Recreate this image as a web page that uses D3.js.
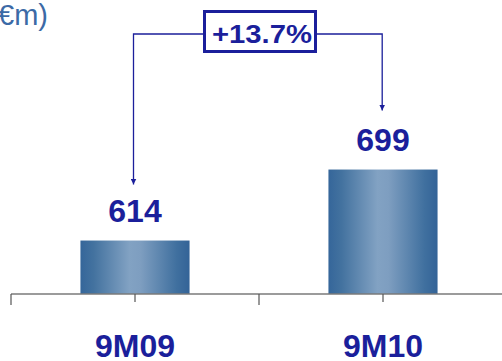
<!DOCTYPE html>
<html>
<head>
<meta charset="utf-8">
<script src="https://cdn.jsdelivr.net/npm/d3@7/dist/d3.min.js"></script>
<style>
  html, body { margin: 0; padding: 0; background: #fff; }
  svg { display: block; font-family: "Liberation Sans", Arial, sans-serif; }
</style>
</head>
<body>
<svg id="chart" width="502" height="361"></svg>
<script>
// Nine-month figures (€m)
const categories = ["9M09", "9M10"];
const values = [614, 699];
const growthLabel = "+13.7%";
const unitLabel = "(€m)";

const W = 502, H = 361;
const svg = d3.select("#chart");

const navy = "#1b1f9b";
const steel = "#3c6aa6";

// Horizontal scale: one band per period
const x = d3.scaleBand().domain(categories).range([11, 507]).padding(0);
const barW = x.bandwidth() * 0.44;
const cx = c => x(c) + x.bandwidth() / 2;

// Vertical scale with a truncated baseline
const baseY = 294;
const y = d3.scaleLinear().domain([550, 700]).range([baseY, baseY - 125.3]);

// Bar fill: light band down the middle, darker edges
const defs = svg.append("defs");
const grad = defs.append("linearGradient").attr("id", "barGrad")
  .attr("x1", "0%").attr("x2", "100%").attr("y1", "0%").attr("y2", "0%");
[["0%", "#35669a"], ["12%", "#43729f"], ["45%", "#82a2c3"], ["55%", "#7e9ec0"], ["88%", "#40709f"], ["100%", "#336397"]]
  .forEach(([o, c]) => grad.append("stop").attr("offset", o).attr("stop-color", c));

defs.append("marker").attr("id", "arrowHead")
  .attr("viewBox", "0 0 10 10").attr("refX", 10).attr("refY", 5)
  .attr("markerWidth", 6).attr("markerHeight", 6).attr("markerUnits", "userSpaceOnUse")
  .attr("orient", "auto")
  .append("path").attr("d", "M0,0 L10,5 L0,10 Z").attr("fill", navy);

// Unit label, partly off the left edge
svg.append("text").attr("x", 48).attr("y", 25)
  .attr("text-anchor", "end").attr("font-size", 29).attr("fill", steel)
  .text(unitLabel);

// Bars
svg.selectAll("rect.bar").data(values).join("rect")
  .attr("class", "bar")
  .attr("x", (d, i) => cx(categories[i]) - barW / 2)
  .attr("width", barW)
  .attr("y", d => y(d))
  .attr("height", d => baseY - y(d))
  .attr("fill", "url(#barGrad)");

// Axis with short ticks at the bar centres
const axis = d3.axisBottom(x).tickSize(8).tickSizeOuter(0).tickFormat("");
const gAxis = svg.append("g").attr("transform", `translate(0,${baseY})`).call(axis);
gAxis.select(".domain").attr("d", `M11,0H${W}`).attr("stroke", "#7a7a7a").attr("stroke-width", 1.5);
gAxis.selectAll(".tick line").attr("stroke", "#555").attr("stroke-width", 1.2);
// Longer ticks at band boundaries
gAxis.selectAll("line.sep").data(categories).join("line")
  .attr("class", "sep")
  .attr("x1", c => x(c)).attr("x2", c => x(c))
  .attr("y1", 0).attr("y2", 11)
  .attr("stroke", "#555").attr("stroke-width", 1.2);

// Value labels
svg.selectAll("text.val").data(values).join("text")
  .attr("class", "val")
  .attr("x", (d, i) => cx(categories[i]))
  .attr("y", d => y(d) - 19)
  .attr("text-anchor", "middle").attr("font-size", 32).attr("font-weight", "bold")
  .attr("fill", navy)
  .text(d => d);

// Category labels
svg.selectAll("text.cat").data(categories).join("text")
  .attr("class", "cat")
  .attr("x", c => cx(c))
  .attr("y", 357)
  .attr("text-anchor", "middle").attr("font-size", 32).attr("font-weight", "bold")
  .attr("fill", navy)
  .text(c => c);

// Growth connector
const topY = 34;
const boxX0 = 203, boxX1 = 317;
const leftX = cx(categories[0]) - 1.5, rightX = cx(categories[1]) - 0.8;
svg.append("path")
  .attr("d", `M${boxX0},${topY}H${leftX}V${y(values[0]) - 56}`)
  .attr("fill", "none").attr("stroke", navy).attr("stroke-width", 1.3)
  .attr("marker-end", "url(#arrowHead)");
svg.append("path")
  .attr("d", `M${boxX1},${topY}H${rightX}V${y(values[1]) - 59}`)
  .attr("fill", "none").attr("stroke", navy).attr("stroke-width", 1.3)
  .attr("marker-end", "url(#arrowHead)");

svg.append("rect").attr("x", boxX0 + 1.5).attr("y", 11.5)
  .attr("width", boxX1 - boxX0 - 3).attr("height", 40)
  .attr("fill", "#fff").attr("stroke", navy).attr("stroke-width", 3);
svg.append("text").attr("x", 212).attr("y", 43)
  .attr("font-size", 25).attr("font-weight", "bold").attr("fill", navy)
  .attr("textLength", 100).attr("lengthAdjust", "spacingAndGlyphs")
  .text(growthLabel);
</script>
</body>
</html>
